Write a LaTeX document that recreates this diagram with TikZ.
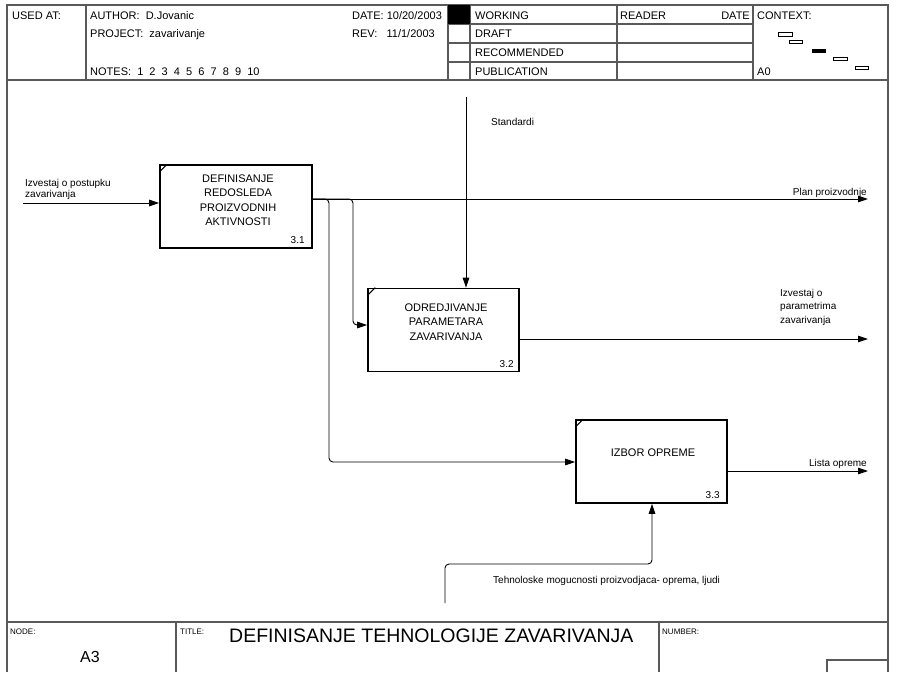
\documentclass[tikz,border=0pt]{standalone}
\usepackage{fontspec}
\setmainfont{Liberation Sans}
\usetikzlibrary{arrows.meta}
\begin{document}
\begin{tikzpicture}[x=1pt,y=-1pt,
 frame/.style={draw=black!65, line width=1.1pt},
 hd/.style={font=\fontsize{11}{12}\selectfont, inner sep=0pt, anchor=base west},
 lbl/.style={font=\fontsize{10}{11.5}\selectfont, inner sep=0pt, align=left, anchor=base west},
 act/.style={draw, line width=1.6pt, minimum width=151pt, minimum height=83pt, inner sep=0pt},
 acttext/.style={font=\fontsize{11}{14.5}\selectfont, align=center, inner sep=0pt},
 num/.style={font=\fontsize{10}{12}\selectfont, inner sep=0pt, anchor=base east},
 arr/.style={line width=0.9pt, -{Triangle[length=10pt,width=6.5pt]}},
 ctx/.style={draw, line width=0.8pt},
]
\useasboundingbox (0,0) rectangle (901,672);
\fill[white] (0,0) rectangle (901,672);

% ---- frame and header ----
\draw[frame] (7,672) -- (7,5) -- (888,5) -- (888,672);
\draw[frame] (7,80) -- (888,80);
\draw[frame] (86,5) -- (86,80);
\draw[frame] (448,5) -- (448,80);
\draw[frame] (470,5) -- (470,80);
\draw[frame] (617,5) -- (617,80);
\draw[frame] (753,5) -- (753,80);
\draw[frame] (448,24) -- (753,24);
\draw[frame] (448,43) -- (753,43);
\draw[frame] (448,62) -- (753,62);
\fill[black] (448,5) rectangle (470,24);

\node[hd] (usedat) at (12,19) {USED AT:};
\node[hd] (author) at (90,19) {AUTHOR: \ D.Jovanic};
\node[hd] (project) at (90,37) {PROJECT: \ zavarivanje};
\node[hd] (notes) at (90,75) {NOTES: \ 1 \ 2 \ 3 \ 4 \ 5 \ 6 \ 7 \ 8 \ 9 \ 10};
\node[hd] (date) at (352,19) {DATE: 10/20/2003};
\node[hd] (rev) at (352,37) {REV: \ \ 11/1/2003};
\node[hd] (working) at (475,19) {WORKING};
\node[hd] (draft) at (475,37) {DRAFT};
\node[hd] (recommended) at (475,56) {RECOMMENDED};
\node[hd] (publication) at (475,75) {PUBLICATION};
\node[hd] (reader) at (620,19) {READER};
\node[hd, anchor=base east] (rdate) at (750,19) {DATE};
\node[hd] (context) at (757,19) {CONTEXT:};
\node[hd] (a0) at (757,75) {A0};

\draw[ctx] (778,32) rectangle (792,36);
\draw[ctx] (789,40) rectangle (802,43.5);
\filldraw[ctx, fill=black] (812,49) rectangle (825,52.5);
\draw[ctx] (833,57) rectangle (847,60.5);
\draw[ctx] (855,66) rectangle (868,69.5);

% ---- footer ----
\draw[frame] (7,622) -- (888,622);
\draw[frame] (176,622) -- (176,672);
\draw[frame] (659,622) -- (659,672);
\draw[frame] (827,672) -- (827,660) -- (888,660);
\node[inner sep=0pt, anchor=base west, font=\fontsize{8}{9}\selectfont] (nodelbl) at (10,634) {NODE:};
\node[inner sep=0pt, anchor=base west, font=\fontsize{8}{9}\selectfont] (titlelbl) at (180,634) {TITLE:};
\node[inner sep=0pt, anchor=base west, font=\fontsize{8}{9}\selectfont] (numberlbl) at (662,634) {NUMBER:};
\node[inner sep=0pt, anchor=base west, font=\fontsize{19.5}{21}\selectfont] (title) at (229,642) {DEFINISANJE TEHNOLOGIJE ZAVARIVANJA};
\node[inner sep=0pt, anchor=base west, font=\fontsize{16}{18}\selectfont] (a3) at (80,662) {A3};

% ---- activity boxes ----
\node[act, minimum width=152pt] (b1) at (236,206.5) {};
\node[act] (b2) at (443.5,330) {};
\node[act] (b3) at (651.5,461.5) {};
\foreach \b in {b1,b2,b3}
  \draw[line width=1pt] ([shift={(0,8)}]\b.north west) -- ([shift={(8,0)}]\b.north west);

\node[acttext] (t1) at (238,200) {DEFINISANJE\\REDOSLEDA\\PROIZVODNIH\\AKTIVNOSTI};
\node[acttext] (t2) at (446,322) {ODREDJIVANJE\\PARAMETARA\\ZAVARIVANJA};
\node[acttext] (t3) at (653,453) {IZBOR OPREME};
\node[num] (n1) at ([shift={(-8,-5)}]b1.south east) {3.1};
\node[num] (n2) at ([shift={(-6,-5)}]b2.south east) {3.2};
\node[num] (n3) at ([shift={(-8,-5)}]b3.south east) {3.3};

% ---- connectors ----
\coordinate (src1) at (23,203);
\draw[arr] (src1) -- (src1 -| b1.west);
\node[lbl] (lin1) at (25,186.5) {Izvestaj o postupku};
\node[lbl] (lin1b) at (25,197.5) {zavarivanja};

\coordinate (out1) at (868,199);
\draw[arr] (out1 -| b1.east) -- (out1);
\node[lbl, anchor=base east] (lout1) at (867,195) {Plan proizvodnje};

\coordinate (j1) at (329,462);
\draw[arr, rounded corners=4pt] (out1 -| b1.east) -| (j1) -- (j1 -| b3.west);
\coordinate (j2) at (353,325);
\draw[arr, rounded corners=4pt] (out1 -| b1.east) -| (j2) -- (j2 -| b2.west);

\coordinate (ctl) at (466,97);
\draw[arr] (ctl) -- (ctl |- b2.north);
\node[lbl] (lctl) at (491,125) {Standardi};

\coordinate (out2) at (868,339);
\draw[arr] (out2 -| b2.east) -- (out2);
\node[lbl] (lout2a) at (780,296) {Izvestaj o};
\node[lbl] (lout2b) at (780,309.5) {parametrima};
\node[lbl] (lout2c) at (780,323) {zavarivanja};

\coordinate (out3) at (868,471);
\draw[arr] (out3 -| b3.east) -- (out3);
\node[lbl, anchor=base east] (lout3) at (867,466) {Lista opreme};

\coordinate (mech) at (445,603);
\coordinate (mk) at (652,564);
\draw[arr, rounded corners=4pt] (mech) |- (mk) -- (mk |- b3.south);
\node[lbl] (lmech) at (493,583) {Tehnoloske mogucnosti proizvodjaca- oprema, ljudi};
\end{tikzpicture}
\end{document}
